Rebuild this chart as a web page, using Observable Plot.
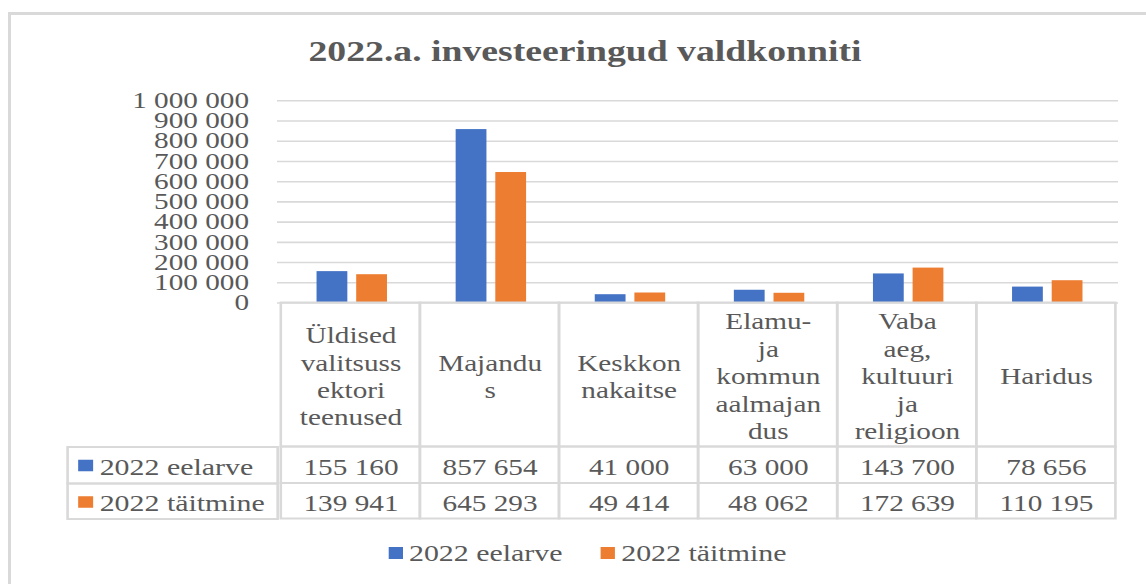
<!DOCTYPE html>
<html>
<head>
<meta charset="utf-8">
<script src="https://cdn.jsdelivr.net/npm/d3@7"></script>
<script src="https://cdn.jsdelivr.net/npm/@observablehq/plot@0.6"></script>
<style>
  html, body { margin: 0; padding: 0; background: #fff; width: 1146px; height: 584px; overflow: hidden; }
  .serif, .serif * { font-family: "Liberation Serif", "Times New Roman", Times, serif !important; color: #595959; }
  #chart svg, #chart svg text { font-family: "Liberation Serif", "Times New Roman", Times, serif !important; }
</style>
</head>
<body>
<div id="border" style="position:absolute;left:8px;top:12px;width:1200px;height:700px;border-left:3px solid #d9d9d9;border-top:3px solid #d9d9d9;"></div>
<div id="wrap" class="serif" style="position:absolute;left:0;top:0;width:882px;height:584px;transform:scaleX(1.3);transform-origin:0 0;">
  <div id="title" style="position:absolute;left:9px;top:36.7px;width:882px;text-align:center;font-weight:bold;font-size:29px;line-height:29px;white-space:nowrap;">2022.a. investeeringud valdkonniti</div>
  <div id="chart" style="position:absolute;left:0;top:85px;"></div>
  <div id="legend" style="position:absolute;left:298.5px;top:541.5px;display:flex;align-items:center;font-size:23px;line-height:23px;white-space:nowrap;"></div>
</div>
<script>
// ---- data ----
const categories = ["Üldised valitsussektori teenused", "Majandus", "Keskkonnakaitse", "Elamu- ja kommunaalmajandus", "Vaba aeg, kultuuri ja religioon", "Haridus"];
const headerLabels = ["Üldised\nvalitsuss\nektori\nteenused", "Majandu\ns", "Keskkon\nnakaitse", "Elamu-\nja\nkommun\naalmajan\ndus", "Vaba\naeg,\nkultuuri\nja\nreligioon", "Haridus"];
const series = ["2022 eelarve", "2022 täitmine"];
const eelarve = [155160, 857654, 41000, 63000, 143700, 78656];
const taitmine = [139941, 645293, 49414, 48062, 172639, 110195];
const yTicks = [0, 100000, 200000, 300000, 400000, 500000, 600000, 700000, 800000, 900000, 1000000];
const colors = ["#4472C4", "#ED7D31"];

// ---- build ----
const FONT = '"Liberation Serif", "Times New Roman", Times, serif';
const fmt = d3.formatLocale({decimal: ",", thousands: "\u00a0", grouping: [3], currency: ["", ""]}).format(",d");
const rowsA = categories.map((c, i) => ({category: c, series: series[0], value: eelarve[i]}));
const rowsB = categories.map((c, i) => ({category: c, series: series[1], value: taitmine[i]}));

const W = 882, H = 445;
const mL = 213.08, mR = W - 860, mT = 15.3, mB = 227.5;
const plotW = W - mL - mR, plotH = H - mT - mB;
const bw = plotW / categories.length;
const barW = 24.5;
const grid = "#d9d9d9";
const r1 = 144, r2 = 180.5, r3 = 216;
const txt = {fontFamily: FONT, fontSize: 22.5, lineAnchor: "middle", fill: "#595959"};

const chart = Plot.plot({
  width: W, height: H,
  marginTop: mT, marginBottom: mB, marginLeft: mL, marginRight: mR,
  style: {fontFamily: FONT, fontSize: "22.5px", color: "#595959", background: "transparent", overflow: "visible"},
  x: {domain: categories, padding: 0, axis: null},
  y: {domain: [0, 1000000], ticks: yTicks, tickFormat: fmt, tickSize: 0, tickPadding: 22, label: null},
  color: {domain: series, range: colors},
  marks: [
    Plot.ruleY(yTicks, {stroke: grid, strokeWidth: 1.6}),
    Plot.barY(rowsA, {x: "category", y: "value", fill: "series", insetLeft: 27.5, insetRight: bw - 27.5 - barW}),
    Plot.barY(rowsB, {x: "category", y: "value", fill: "series", insetLeft: 58, insetRight: bw - 58 - barW}),
    Plot.cell(categories, {x: d => d, fill: "none", stroke: grid, strokeWidth: 2, insetTop: plotH, insetBottom: -r1}),
    Plot.cell(categories, {x: d => d, fill: "none", stroke: grid, strokeWidth: 2, insetTop: plotH + r1, insetBottom: -r2}),
    Plot.cell(categories, {x: d => d, fill: "none", stroke: grid, strokeWidth: 2, insetTop: plotH + r2, insetBottom: -r3}),
    Plot.frame({stroke: grid, strokeWidth: 2, insetLeft: -161.6, insetRight: plotW, insetTop: plotH + r1, insetBottom: -r2}),
    Plot.frame({stroke: grid, strokeWidth: 2, insetLeft: -161.6, insetRight: plotW, insetTop: plotH + r2, insetBottom: -r3}),
    Plot.text(categories, {...txt, x: d => d, text: (d, i) => headerLabels[i], frameAnchor: "bottom", dy: 72.5, lineHeight: 1.22}),
    Plot.text(rowsA, {...txt, x: "category", text: d => fmt(d.value), frameAnchor: "bottom", dy: 164.5}),
    Plot.text(rowsB, {...txt, x: "category", text: d => fmt(d.value), frameAnchor: "bottom", dy: 200.5}),
    Plot.dot([series[0]], {fill: d => d, symbol: "square", r: 6.5, frameAnchor: "bottom-left", dx: -147.7, dy: 162.5}),
    Plot.dot([series[1]], {fill: d => d, symbol: "square", r: 6.5, frameAnchor: "bottom-left", dx: -147.7, dy: 199}),
    Plot.text([series[0]], {...txt, text: d => d, frameAnchor: "bottom-left", textAnchor: "start", dx: -136.9, dy: 164.5, fontSize: 23}),
    Plot.text([series[1]], {...txt, text: d => d, frameAnchor: "bottom-left", textAnchor: "start", dx: -136.9, dy: 200.5, fontSize: 23})
  ]
});
document.getElementById("chart").appendChild(chart);

// legend
const leg = document.getElementById("legend");
series.forEach((s, i) => {
  const sw = document.createElement("span");
  sw.style.cssText = `display:inline-block;width:11.5px;height:11.5px;background:${colors[i]};margin-right:4.6px;`;
  const t = document.createElement("span");
  t.textContent = s;
  t.style.marginRight = i === 0 ? "29px" : "0";
  leg.appendChild(sw);
  leg.appendChild(t);
});
</script>
</body>
</html>
